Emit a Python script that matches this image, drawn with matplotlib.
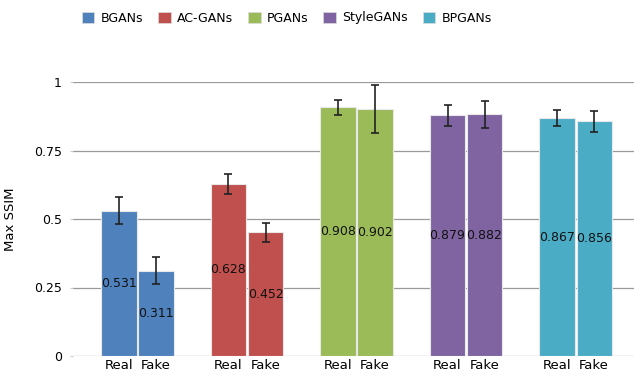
import matplotlib
matplotlib.use("Agg")
import matplotlib.pyplot as plt
from matplotlib.patches import Patch
import numpy as np

models = ['BGANs', 'AC-GANs', 'PGANs', 'StyleGANs', 'BPGANs']
colors = ['#4F81BD', '#C0504D', '#9BBB59', '#8064A2', '#4BACC6']
real = [0.531, 0.628, 0.908, 0.879, 0.867]
fake = [0.311, 0.452, 0.902, 0.882, 0.856]
real_err = [0.049, 0.038, 0.027, 0.038, 0.029]
fake_err = [0.050, 0.035, 0.088, 0.049, 0.038]

fig = plt.figure(figsize=(6.36, 3.75), dpi=100)
ax = fig.add_axes([73 / 636, 19 / 375, 561 / 636, 274 / 375])

x = np.arange(len(models))
w = 0.32
off = 0.169
for i in range(len(models)):
    for xi, v, e in [(x[i] - off, real[i], real_err[i]), (x[i] + off, fake[i], fake_err[i])]:
        ax.bar(xi, v, width=w, color=colors[i], edgecolor='#e8e8e8', linewidth=0.8, zorder=2)
        ax.errorbar(xi, v, yerr=e, fmt='none', ecolor='#222222', elinewidth=1.2,
                    capsize=3, capthick=1.2, zorder=3, clip_on=False)
        ax.text(xi, v / 2, f'{v:.3f}', ha='center', va='center', fontsize=9,
                color='#111111', zorder=4)

ax.set_xlim(-0.589, 4.534)
ax.set_ylim(0, 1)
ax.set_yticks([0, 0.25, 0.5, 0.75, 1])
ax.set_yticklabels(['0', '0.25', '0.5', '0.75', '1'], fontsize=9)
ticks = []
labels = []
for i in x:
    ticks += [i - off, i + off]
    labels += ['Real', 'Fake']
ax.set_xticks(ticks)
ax.set_xticklabels(labels, fontsize=9.5)
ax.tick_params(axis='x', length=0, pad=2)
ax.tick_params(axis='y', length=2, color='#cccccc', pad=6)
ax.grid(axis='y', color='#999999', linewidth=0.9, zorder=0)
ax.set_axisbelow(True)
for s in ax.spines.values():
    s.set_visible(False)
ax.set_ylabel('Max SSIM', fontsize=9.5, labelpad=12)

handles = [Patch(facecolor=c, edgecolor='#dddddd', linewidth=0.5) for c in colors]
fig.legend(handles, models, loc='center', bbox_to_anchor=(0.451, 0.952), ncol=5,
           frameon=False, fontsize=9,
           handlelength=1.0, handleheight=1.0,
           handletextpad=0.5, columnspacing=1.2)

fig.savefig('out.png', dpi=100)
